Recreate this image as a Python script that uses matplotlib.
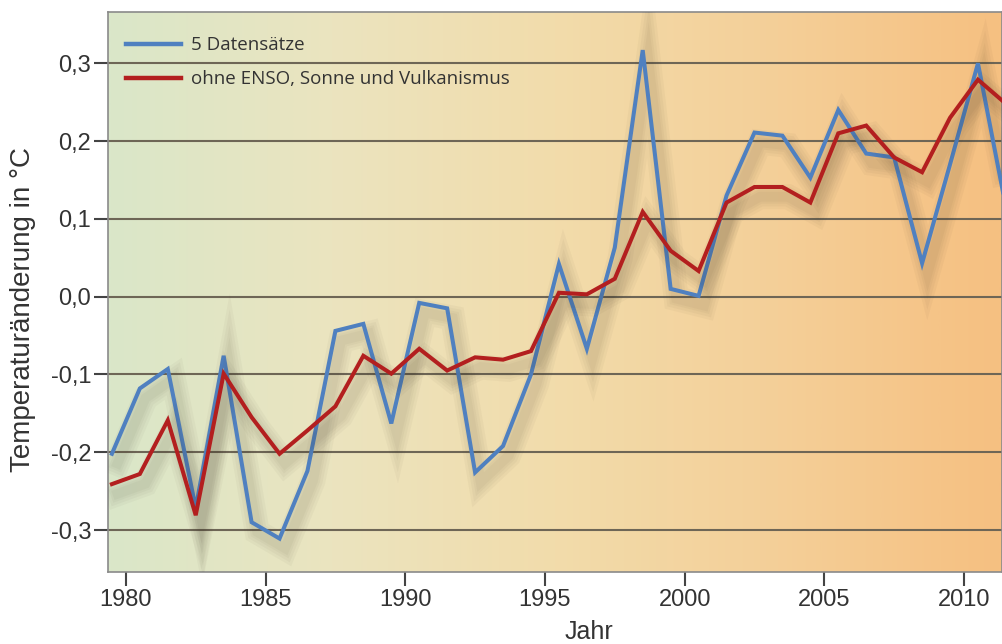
import numpy as np
import matplotlib
matplotlib.use("Agg")
import matplotlib.pyplot as plt
import matplotlib.patheffects as pe
from matplotlib.colors import LinearSegmentedColormap

# yearly values, plotted at mid-year
years = list(range(1979, 2012))
datensaetze = [-0.202, -0.118, -0.093, -0.272, -0.076, -0.290, -0.311, -0.224,
               -0.044, -0.035, -0.163, -0.008, -0.015, -0.226, -0.192, -0.100,
               0.042, -0.067, 0.063, 0.317, 0.010, 0.001, 0.130, 0.211,
               0.207, 0.153, 0.240, 0.184, 0.179, 0.043, 0.170, 0.300, 0.115]
bereinigt = [-0.241, -0.228, -0.159, -0.281, -0.099, -0.155, -0.202, -0.172,
             -0.141, -0.076, -0.099, -0.067, -0.095, -0.078, -0.081, -0.070,
             0.005, 0.003, 0.023, 0.109, 0.059, 0.033, 0.121, 0.141,
             0.141, 0.121, 0.210, 0.220, 0.179, 0.160, 0.230, 0.279, 0.248]
yticks = [-0.3, -0.2, -0.1, 0.0, 0.1, 0.2, 0.3]
ytick_labels = ["-0,3", "-0,2", "-0,1", "0,0", "0,1", "0,2", "0,3"]
xticks = [1980, 1985, 1990, 1995, 2000, 2005, 2010]

fig = plt.figure(figsize=(10.02, 6.44), dpi=100)
ax = fig.add_axes([108 / 1002, 1 - 572 / 644, 1 - 108 / 1002, (572 - 12) / 644])

x0, x1 = 1979.36, 2011.36
y0, y1 = -0.354, 0.366

# background gradient green -> beige -> orange
cmap = LinearSegmentedColormap.from_list("bg", ["#dae7c9", "#ebe4bf", "#f2dcab", "#f4cf98", "#f6c081"])
grad = np.linspace(0, 1, 400).reshape(1, -1)
ax.imshow(grad, extent=[x0, x1, y0, y1], aspect="auto", cmap=cmap, zorder=0)

for yt in yticks:
    ax.axhline(yt, color="#6e6656", lw=1.5, zorder=1)

xs = [y + 0.5 for y in years]
# soft drop shadow: a few wide, faint layers
shadow = [pe.SimpleLineShadow(offset=(4, -7), shadow_color="#3a3020", alpha=0.035, linewidth=w)
          for w in (18, 14, 10, 7)] + [pe.Normal()]
ax.plot(xs, datensaetze, color="#4f80c0", lw=2.9, zorder=3, label="5 Datensätze",
        path_effects=shadow, solid_joinstyle="miter")
ax.plot(xs, bereinigt, color="#b31f1f", lw=2.9, zorder=4, label="ohne ENSO, Sonne und Vulkanismus",
        path_effects=shadow, solid_joinstyle="miter")

ax.set_xlim(x0, x1)
ax.set_ylim(y0, y1)
ax.set_xticks(xticks)
ax.set_xticklabels([str(t) for t in xticks])
ax.set_yticks(yticks)
ax.set_yticklabels(ytick_labels)
ax.tick_params(axis="both", direction="out", length=10, width=1.5, color="#444444",
               labelsize=17, labelcolor="#333333", pad=2)
for t in ax.get_xticklabels() + ax.get_yticklabels():
    t.set_family("Liberation Sans")

for side, sp in ax.spines.items():
    sp.set_color("#8a8a8a")
    sp.set_linewidth(1.2)

ax.set_ylabel("Temperaturänderung in °C", fontsize=20, family="Liberation Sans",
              color="#333333")
ax.yaxis.set_label_coords(-0.080, 0.468)
fig.text(589 / 1002, 1 - 632 / 644, "Jahr", fontsize=18, family="Liberation Sans",
         color="#333333", ha="center", va="center")

leg = ax.legend(loc="upper left", frameon=False, fontsize=13.5, handlelength=2.9,
                handletextpad=0.55, labelspacing=0.85, borderaxespad=0.0,
                bbox_to_anchor=(0.012, 0.97))
for t in leg.get_texts():
    t.set_family("Open Sans")
    t.set_color("#333333")
for h in leg.get_lines():
    h.set_path_effects([])
    h.set_linewidth(3.2)

fig.savefig("out.png", dpi=100)
